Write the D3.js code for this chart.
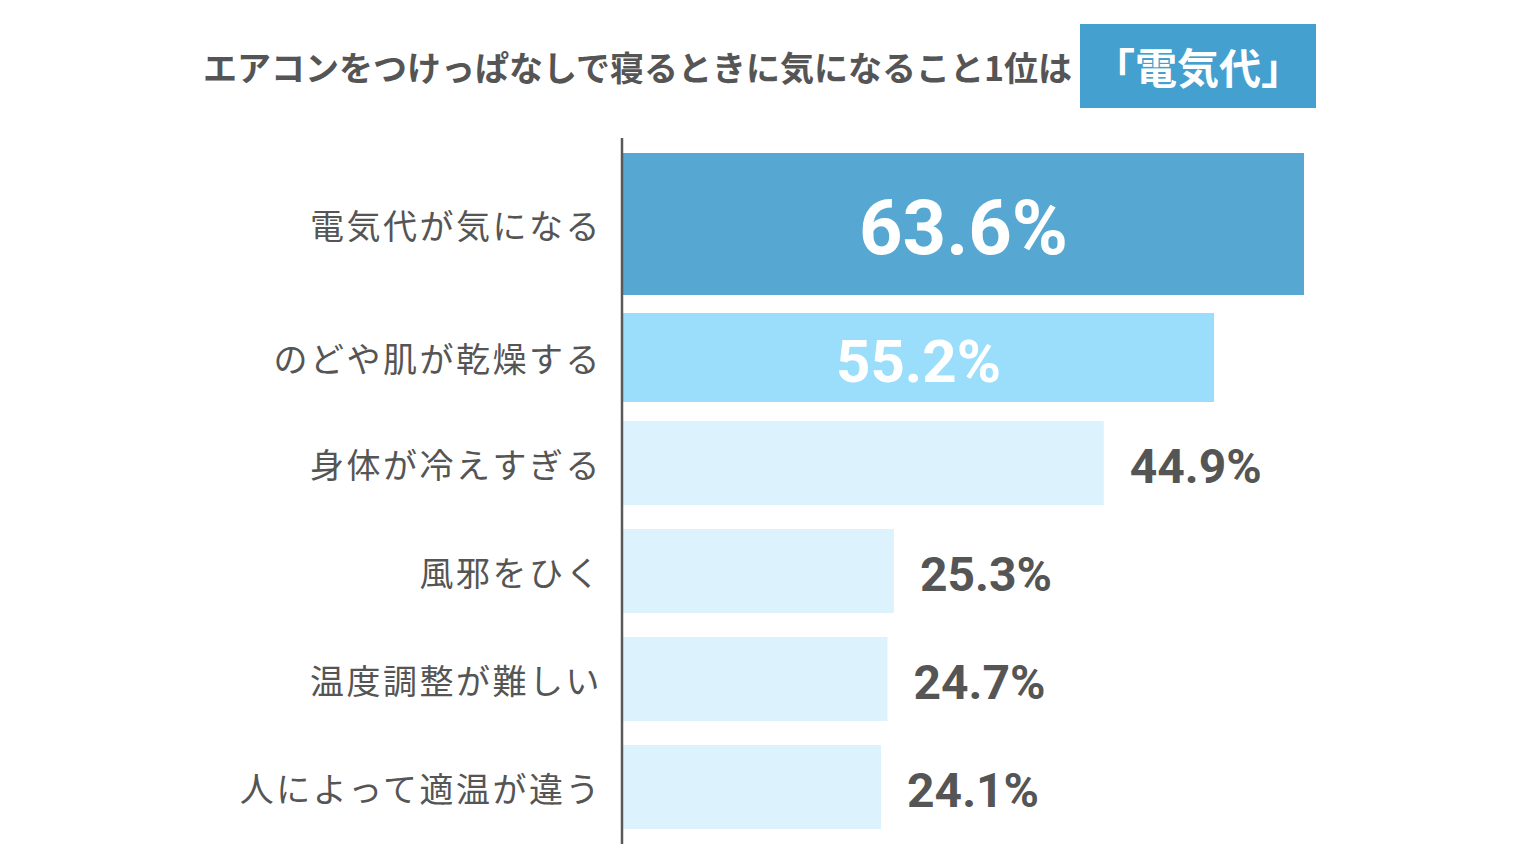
<!DOCTYPE html>
<html>
<head>
<meta charset="utf-8">
<script src="https://cdn.jsdelivr.net/npm/d3@7"></script>
<style>
  html, body { margin: 0; padding: 0; background: #fff; }
  svg { display: block; }
</style>
</head>
<body>
<div id="chart"></div>
<script>
// data
var categories = ["電気代が気になる", "のどや肌が乾燥する", "身体が冷えすぎる", "風邪をひく", "温度調整が難しい", "人によって適温が違う"];
var values = [63.6, 55.2, 44.9, 25.3, 24.7, 24.1];
var titleText = "エアコンをつけっぱなしで寝るときに気になること1位は";
var titleHighlight = "「電気代」";

var width = 1521,
    height = 866,
    axisX = 622,
    jpFont = "'Noto Sans CJK JP', 'Noto Sans', sans-serif",
    numFont = "Roboto, 'Noto Sans', sans-serif",
    grey = "#555555";

// bar colours by rank: top one strong, second mid, rest pale
var barColor = function(i) { return i === 0 ? "#56A8D2" : (i === 1 ? "#9ADEFC" : "#DCF3FD"); };
// row heights / gaps (first row is the highlighted, taller one)
var rowHeight = function(i) { return i === 0 ? 142 : (i === 1 ? 89 : 84); };
var rowGap = function(i) { return i === 0 ? 18 : (i === 1 ? 19 : 24); };

var rows = [];
var cursorY = 153;
categories.forEach(function(c, i) {
  rows.push({ name: c, value: values[i], y: cursorY, h: rowHeight(i), i: i });
  cursorY += rowHeight(i) + rowGap(i);
});

var svg = d3.select("#chart").append("svg")
  .attr("width", width)
  .attr("height", height);

var x = d3.scaleLinear()
  .domain([0, d3.max(values)])
  .range([axisX + 1, 1304]);

// title
var titleG = svg.append("g");
titleG.append("text")
  .attr("x", 1072)
  .attr("y", 66)
  .attr("text-anchor", "end")
  .attr("dominant-baseline", "central")
  .style("font-family", jpFont)
  .style("font-weight", 700)
  .style("font-size", "34px")
  .style("fill", grey)
  .text(titleText);

titleG.append("rect")
  .attr("x", 1080)
  .attr("y", 24)
  .attr("width", 236)
  .attr("height", 84)
  .style("fill", "#43A0CF");

titleG.append("text")
  .attr("x", 1198)
  .attr("y", 65)
  .attr("text-anchor", "middle")
  .attr("dominant-baseline", "central")
  .style("font-family", jpFont)
  .style("font-weight", 700)
  .style("font-size", "42px")
  .style("fill", "#fff")
  .text(titleHighlight);

// bars
var barG = svg.append("g").attr("class", "bars");
barG.selectAll("rect.bar")
  .data(rows).enter()
  .append("rect")
  .attr("class", "bar")
  .attr("x", x(0))
  .attr("y", function(d) { return d.y; })
  .attr("width", function(d) { return x(d.value) - x(0); })
  .attr("height", function(d) { return d.h; })
  .style("fill", function(d) { return barColor(d.i); });

// category labels
svg.append("g").selectAll("text.cat")
  .data(rows).enter()
  .append("text")
  .attr("class", "cat")
  .attr("x", axisX - 20)
  .attr("y", function(d) { return d.y + d.h / 2; })
  .attr("text-anchor", "end")
  .attr("dominant-baseline", "central")
  .style("font-family", jpFont)
  .style("font-weight", 400)
  .style("font-size", "34px")
  .style("letter-spacing", "2.5px")
  .style("fill", grey)
  .text(function(d) { return d.name; });

// value labels
var labelSize = function(i) { return i === 0 ? 76 : (i === 1 ? 60 : 48); };
svg.append("g").selectAll("text.val")
  .data(rows).enter()
  .append("text")
  .attr("class", "val")
  .attr("x", function(d) {
    return d.i < 2 ? (x(0) + x(d.value)) / 2 : x(d.value) + 26;
  })
  .attr("y", function(d) { return d.y + d.h / 2 + labelSize(d.i) * 0.711 / 2 + 3; })
  .attr("text-anchor", function(d) { return d.i < 2 ? "middle" : "start"; })
  .style("font-family", numFont)
  .style("font-weight", 700)
  .style("font-size", function(d) { return labelSize(d.i) + "px"; })
  .style("fill", function(d) { return d.i < 2 ? "#fff" : grey; })
  .text(function(d) { return d.value.toFixed(1) + "%"; });

// vertical axis line
svg.append("line")
  .attr("x1", axisX)
  .attr("x2", axisX)
  .attr("y1", 138)
  .attr("y2", 844)
  .style("stroke", "#595959")
  .style("stroke-width", 2.5);
</script>
</body>
</html>
